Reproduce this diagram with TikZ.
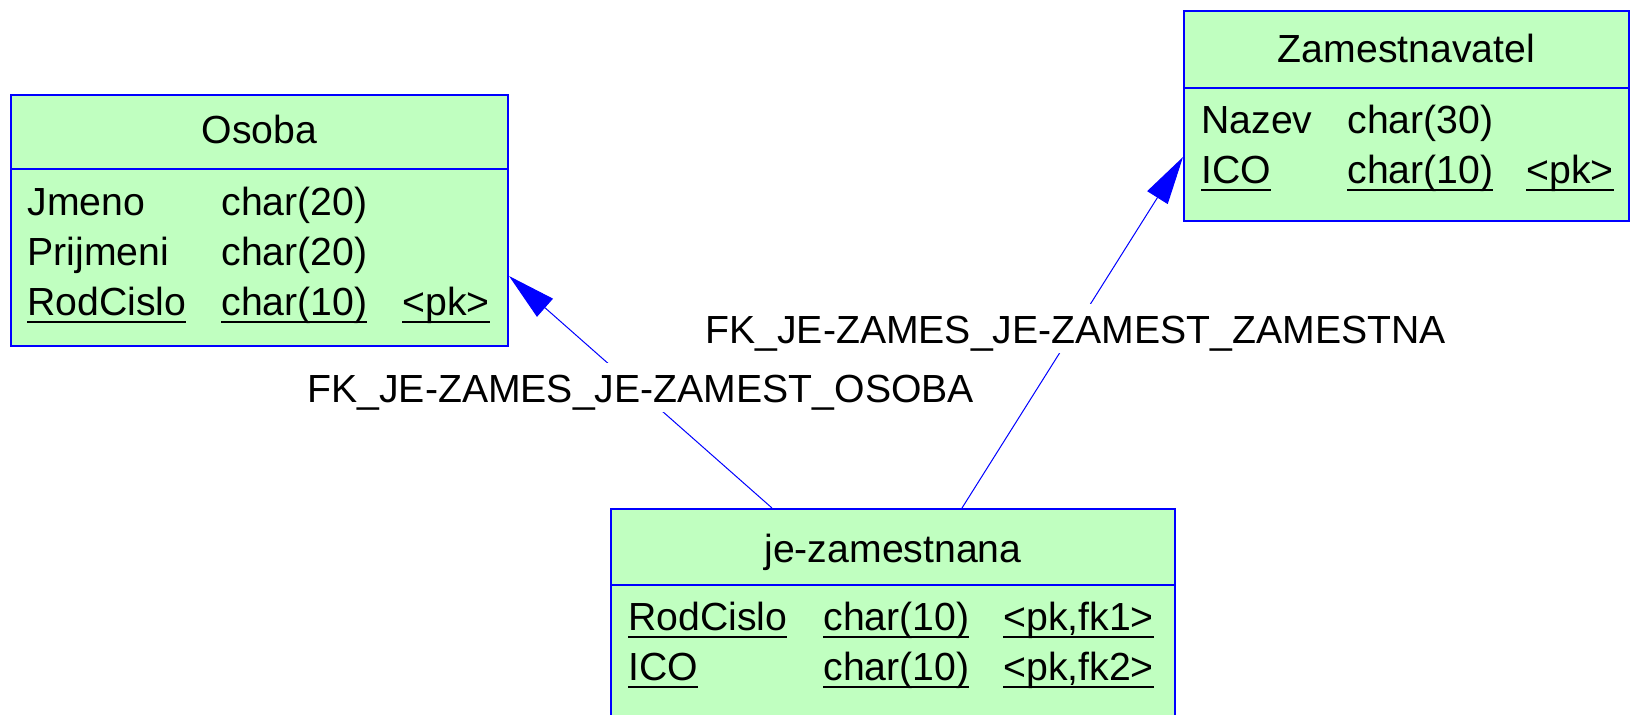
\documentclass[tikz,border=0pt]{standalone}
\usepackage{fontspec}
\setmainfont{Liberation Sans}
\usetikzlibrary{arrows.meta,calc,fit}
\definecolor{tblfill}{RGB}{192,255,192}
\definecolor{tblblue}{RGB}{0,0,255}
\newcommand\ulx[1]{\setbox0\hbox{#1}\rlap{\rule[-3.9pt]{\wd0}{0.75pt}}\box0}
\begin{document}
\begin{tikzpicture}[x=0.5pt,y=-0.5pt,
  font=\fontsize{19.6pt}{23pt}\selectfont,
  tbl/.style={draw=tblblue,fill=tblfill,line width=1pt,inner sep=0pt},
  sep/.style={draw=tblblue,line width=1pt},
  cell/.style={anchor=base west,inner sep=0pt},
  ttl/.style={anchor=base,inner sep=0pt},
  fk/.style={draw=tblblue,line width=0.5pt,-{Triangle[length=24pt,width=12pt,fill=tblblue]}},
  fklabel/.style={anchor=base west,fill=white,inner xsep=0pt,inner ysep=5pt,text height=14.5pt,text depth=0pt}]
\useasboundingbox (0,0) rectangle (1630,714);
\clip (0,0) rectangle (1630,714);
\fill[white] (0,0) rectangle (1630,714);

% Osoba
\node[tbl,fit={(11,95) (508,346)}] (osoba) {};
\draw[sep] ($(osoba.north west)+(0,75)$) -- ($(osoba.north east)+(0,75)$);
\node[ttl] (osobaT) at (259.5,143) {Osoba};
\node[cell] (o1a) at (27,215) {Jmeno};
\node[cell] (o1b) at (221,215) {char(20)};
\node[cell] (o2a) at (27,265) {Prijmeni};
\node[cell] (o2b) at (221,265) {char(20)};
\node[cell] (o3a) at (27,315) {\ulx{RodCislo}};
\node[cell] (o3b) at (221,315) {\ulx{char(10)}};
\node[cell] (o3c) at (402,315) {\ulx{<pk>}};

% Zamestnavatel
\node[tbl,fit={(1184,11) (1629,221)}] (zam) {};
\draw[sep] ($(zam.north west)+(0,78)$) -- ($(zam.north east)+(0,78)$);
\node[ttl] (zamT) at (1406.5,62) {Zamestnavatel};
\node[cell] (z1a) at (1201,133) {Nazev};
\node[cell] (z1b) at (1347,133) {char(30)};
\node[cell] (z2a) at (1201,183) {\ulx{ICO}};
\node[cell] (z2b) at (1347,183) {\ulx{char(10)}};
\node[cell] (z2c) at (1526,183) {\ulx{<pk>}};

% je-zamestnana
\node[tbl,fit={(611,509) (1175,730)}] (jz) {};
\draw[sep] ($(jz.north west)+(0,77)$) -- ($(jz.north east)+(0,77)$);
\node[ttl] (jzT) at (893,562) {je-zamestnana};
\node[cell] (j1a) at (628,630) {\ulx{RodCislo}};
\node[cell] (j1b) at (823,630) {\ulx{char(10)}};
\node[cell] (j1c) at (1003,630) {\ulx{<pk,fk1>}};
\node[cell] (j2a) at (628,680) {\ulx{ICO}};
\node[cell] (j2b) at (823,680) {\ulx{char(10)}};
\node[cell] (j2c) at (1003,680) {\ulx{<pk,fk2>}};

% connectors
\draw[fk] ($(jz.north west)+(162,0)$) -- ($(osoba.north east)+(0,182)$);
\draw[fk] ($(jz.north west)+(352,0)$) -- ($(zam.north west)+(0,147)$);

\node[fklabel] (fk1) at (307,402) {FK\_JE-ZAMES\_JE-ZAMEST\_OSOBA};
\node[fklabel] (fk2) at (705,343) {FK\_JE-ZAMES\_JE-ZAMEST\_ZAMESTNA};
\end{tikzpicture}
\end{document}
